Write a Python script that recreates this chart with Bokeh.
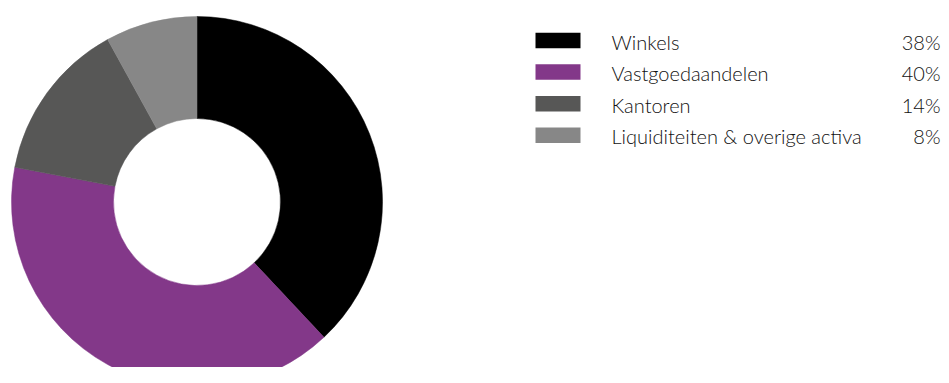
import math
from bokeh.plotting import figure
from bokeh.models import Range1d, ColumnDataSource
from bokeh.core.properties import value
from bokeh.embed import file_html
from bokeh.resources import INLINE

categories = ["Winkels", "Vastgoedaandelen", "Kantoren", "Liquiditeiten & overige activa"]
shares = [38, 40, 14, 8]
share_labels = ["38%", "40%", "14%", "8%"]
colors = ["#000000", "#833889", "#575756", "#878787"]

W, H = 941, 367
p = figure(width=W, height=H, output_backend="svg", toolbar_location=None,
           x_range=Range1d(0, W), y_range=Range1d(0, H), min_border=0,
           outline_line_color=None, background_fill_color="white")
p.axis.visible = False
p.grid.visible = False

def fy(py):
    return H - py

total = sum(shares)
starts, ends = [], []
cum = 0
for s in shares:
    a0 = math.pi / 2 - 2 * math.pi * cum / total
    cum += s
    a1 = math.pi / 2 - 2 * math.pi * cum / total
    starts.append(a1)
    ends.append(a0)

src = ColumnDataSource(dict(start=starts, end=ends, color=colors, cat=categories))
p.annular_wedge(x=196.5, y=fy(201.5), inner_radius=83.5, outer_radius=185.5,
                start_angle="start", end_angle="end", direction="anticlock",
                fill_color="color", line_color="color", line_width=0.5, source=src)

row_y = [fy(40 + 31.6 * i) for i in range(len(categories))]
text_y = [y - 1 for y in row_y]
lsrc = ColumnDataSource(dict(y=row_y, ty=text_y, color=colors, cat=categories, pct=share_labels))
p.rect(x=557.5, y="y", width=45, height=15.5, fill_color="color", line_color=None, source=lsrc)
font = value("Lato Light, Lato")
p.text(x=611, y="ty", text="cat", text_font=font, text_font_size="20px",
       text_color="#111111", text_baseline="middle", text_align="left", source=lsrc)
p.text(x=940, y="ty", text="pct", text_font=font, text_font_size="20px",
       text_color="#111111", text_baseline="middle", text_align="right", source=lsrc)

open("out.html", "w").write(file_html(p, INLINE))
